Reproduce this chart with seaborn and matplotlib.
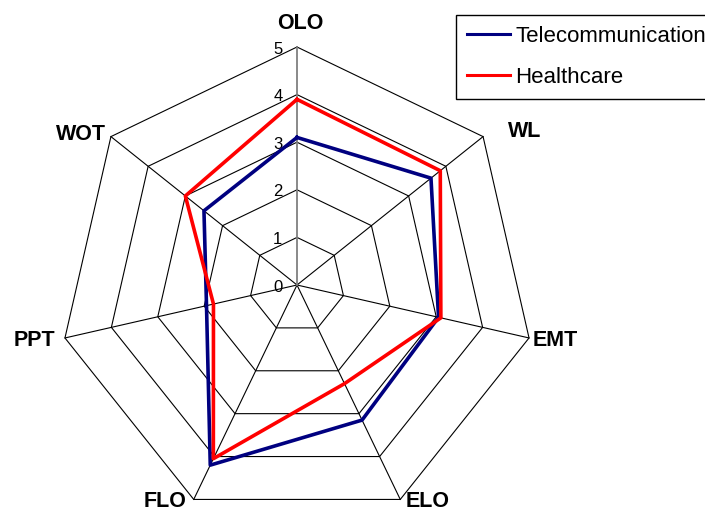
import numpy as np
import pandas as pd
import matplotlib
matplotlib.use("Agg")
import matplotlib.pyplot as plt
from matplotlib.lines import Line2D
import seaborn as sns

# Radar chart data
categories = ["OLO", "WL", "EMT", "ELO", "FLO", "PPT", "WOT"]
telecom = [3.1, 3.6, 3.05, 3.15, 4.2, 1.95, 2.5]
healthcare = [3.9, 3.85, 3.1, 2.3, 4.05, 1.8, 3.0]
series_names = ["Telecommunication", "Healthcare"]
series_colors = ["#000080", "#FF0000"]
ring_levels = [0, 1, 2, 3, 4, 5]

n = len(categories)
theta = np.linspace(0, 2 * np.pi, n, endpoint=False)
theta_closed = np.append(theta, 2 * np.pi)

rows = []
for name, vals in zip(series_names, [telecom, healthcare]):
    closed = list(vals) + [vals[0]]
    for t, v in zip(theta_closed, closed):
        rows.append({"theta": t, "value": v, "series": name})
df = pd.DataFrame(rows)

plt.rcParams["font.family"] = ["Liberation Sans", "DejaVu Sans"]

W, H = 705, 512
cx, cy, R = 297, 285, 238
fig = plt.figure(figsize=(W / 100, H / 100), dpi=100)
fig.patch.set_facecolor("white")
ax = fig.add_axes([(cx - R) / W, (H - cy - R) / H, 2 * R / W, 2 * R / H],
                  projection="polar")
ax.set_theta_zero_location("N")
ax.set_theta_direction(-1)
ax.set_ylim(0, ring_levels[-1])
ax.grid(False)
ax.spines["polar"].set_visible(False)
ax.set_xticks([])
ax.set_yticks([])
ax.patch.set_visible(False)

rmax = ring_levels[-1]
# heptagonal rings
for lv in ring_levels[1:]:
    ax.plot(theta_closed, [lv] * (n + 1), color="black", lw=0.8,
            zorder=1, clip_on=False)
# spokes; the first one doubles as the value axis
for i, t in enumerate(theta):
    if i == 0:
        ax.plot([t, t], [0, rmax], color="#808080", lw=1.3, zorder=1.5,
                clip_on=False)
    else:
        ax.plot([t, t], [0, rmax], color="black", lw=0.8, zorder=1,
                clip_on=False)

# value labels along the vertical axis
px = 0.72  # points per pixel at 100 dpi
for lv in ring_levels:
    ax.annotate(str(lv), xy=(0, lv), xytext=(-14.5 * px, -2 * px),
                textcoords="offset points", ha="right", va="center",
                fontsize=12, color="black", annotation_clip=False)

# category labels placed outside each vertex (pixel offsets)
label_offsets = {
    "OLO": (3, 23.5), "WL": (42, 5.5), "EMT": (26, -2.5), "ELO": (27, -2.5),
    "FLO": (-29, -2.5), "PPT": (-31, -2.5), "WOT": (-30, 2.5),
}
for t, cat in zip(theta, categories):
    dx, dy = label_offsets[cat]
    ax.annotate(cat, xy=(t, rmax), xytext=(dx * px, dy * px),
                textcoords="offset points", ha="center", va="center",
                fontsize=15.5, fontweight="bold", color="black",
                annotation_clip=False)

palette = dict(zip(series_names, series_colors))
sns.lineplot(data=df, x="theta", y="value", hue="series",
             hue_order=series_names, palette=palette, sort=False,
             estimator=None, lw=2.6, legend=False, ax=ax, zorder=3)
ax.set_xlabel("")
ax.set_ylabel("")
for ln in ax.lines:
    ln.set_clip_on(False)

handles = [Line2D([0], [0], color=c, lw=2.2) for c in series_colors]
fig.legend(handles, series_names, loc="upper left",
           bbox_to_anchor=(455.7 / W, 1 - 15 / H),
           frameon=True, fancybox=False, edgecolor="black", framealpha=1,
           fontsize=16, handlelength=1.94, handletextpad=0.23,
           borderpad=0.5, labelspacing=0.89, borderaxespad=0)

fig.savefig("out.png", dpi=100)
